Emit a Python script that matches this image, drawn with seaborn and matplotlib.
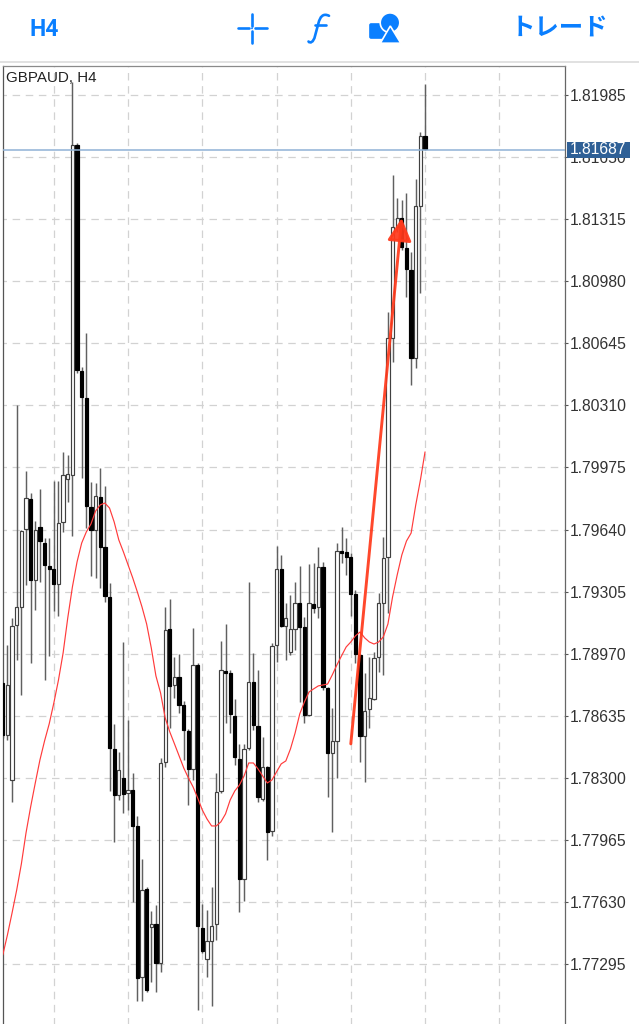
import matplotlib
matplotlib.use("Agg")
import logging
logging.getLogger("matplotlib.font_manager").setLevel(logging.ERROR)
import matplotlib.pyplot as plt
import numpy as np
import pandas as pd
import seaborn as sns
from matplotlib.patches import Circle, FancyBboxPatch, PathPatch, Polygon, Rectangle
from matplotlib.path import Path

# candle values: upper body edge, lower body edge, high, low, direction
body_top = [1.78812,1.78801,1.79119,1.79222,1.79632,1.79810,1.79805,1.79638,1.79654,1.79567,1.79443,1.79427,1.79675,1.79934,1.79940,1.81715,
1.81715,1.80496,1.80350,1.79762,1.79821,1.79816,1.79546,1.79276,1.78456,1.78342,1.78299,1.78234,1.78234,1.78040,1.77695,1.77700,
1.77511,1.77511,1.78380,1.79098,1.79103,1.78844,1.78844,1.78693,1.78553,1.78909,1.78909,1.77490,1.77419,1.77500,1.78224,1.78882,
1.78877,1.78866,1.78634,1.78402,1.78456,1.78817,1.78817,1.78580,1.78358,1.78358,1.79012,1.79427,1.79427,1.79163,1.79103,1.79244,
1.79244,1.79114,1.79244,1.79238,1.79438,1.79438,1.78785,1.78499,1.79524,1.79524,1.79519,1.79492,1.79292,1.78963,1.78661,1.78731,
1.78947,1.79244,1.79486,1.80674,1.81273,1.81321,1.81321,1.81160,1.81041,1.81386,1.81764,1.81764]
body_bottom = [1.78531,1.78531,1.78288,1.79125,1.79222,1.79643,1.79368,1.79368,1.79578,1.79449,1.79427,1.79346,1.79346,1.79681,1.79913,1.79934,
1.80501,1.80355,1.79767,1.79638,1.79638,1.79546,1.79281,1.78461,1.78207,1.78207,1.78213,1.78218,1.78040,1.77220,1.77225,1.77155,
1.77495,1.77301,1.77301,1.78385,1.78796,1.78801,1.78693,1.78558,1.78348,1.78348,1.77500,1.77365,1.77322,1.77419,1.77511,1.78229,
1.78866,1.78645,1.78412,1.77754,1.77754,1.78461,1.78585,1.78197,1.78186,1.78008,1.78013,1.79017,1.79119,1.79119,1.78979,1.79103,
1.79114,1.78639,1.78639,1.79217,1.79222,1.78790,1.78434,1.78434,1.78499,1.79513,1.79492,1.79292,1.78968,1.78526,1.78526,1.78672,
1.78726,1.78952,1.79244,1.79492,1.80674,1.81273,1.81165,1.81046,1.80566,1.80566,1.81386,1.81694]
highs = [1.78812,1.79017,1.79163,1.80312,1.79638,1.79956,1.79837,1.79686,1.79859,1.79594,1.79594,1.79902,1.79902,1.80059,1.80042,1.82055,
1.81726,1.80517,1.80701,1.79897,1.79891,1.79972,1.79875,1.79352,1.78591,1.78439,1.79033,1.78612,1.78326,1.78094,1.77862,1.77711,
1.77581,1.77614,1.78407,1.79222,1.79265,1.78952,1.78968,1.78715,1.78564,1.79109,1.78920,1.77619,1.77587,1.77711,1.78326,1.79039,
1.79130,1.78882,1.78725,1.78483,1.78483,1.79357,1.78974,1.78882,1.78520,1.78364,1.79028,1.79551,1.79503,1.79244,1.79287,1.79357,
1.79443,1.79168,1.79454,1.79459,1.79546,1.79465,1.78790,1.78677,1.79567,1.79654,1.79594,1.79513,1.79314,1.78968,1.78866,1.78952,
1.78979,1.79298,1.79600,1.80814,1.81554,1.81429,1.81419,1.81456,1.81138,1.81532,1.81786,1.82045]
lows = [1.78515,1.78504,1.78170,1.78936,1.78747,1.79341,1.78920,1.79206,1.79357,1.78828,1.78958,1.79200,1.79173,1.79627,1.79789,1.79605,
1.80485,1.79918,1.79648,1.79389,1.79379,1.79325,1.79249,1.78229,1.77954,1.78180,1.78110,1.78126,1.77630,1.77096,1.77096,1.77144,
1.77198,1.77144,1.77252,1.78358,1.78569,1.78731,1.78650,1.78396,1.78153,1.78288,1.77047,1.77355,1.77225,1.77069,1.77425,1.78218,
1.78596,1.78542,1.78369,1.77576,1.77635,1.78450,1.78558,1.78170,1.78175,1.77857,1.77986,1.78925,1.79114,1.78936,1.78963,1.78990,
1.78709,1.78596,1.78634,1.79190,1.79163,1.78774,1.78197,1.78008,1.78299,1.79459,1.79395,1.79173,1.78920,1.78385,1.78278,1.78569,
1.78720,1.78871,1.78855,1.79190,1.80544,1.81246,1.81149,1.80895,1.80420,1.80512,1.80917,1.81688]
direction = "DUUUUUDUDDDDUUUU" "DDDDUDDDDUDUDDUD" "UDUUDUDDDUDDUUUU" "DDDDUUDDUDUUDUUU" "DDUDUDDUUDDDDDUU" "UUUUUUDDDUUD"
ma_values = [1.77344,1.77452,1.77571,1.77695,1.77835,1.78002,1.78143,1.78272,1.78396,1.78499,1.78591,1.78704,1.78828,1.78974,1.79163,1.79330,
1.79465,1.79567,1.79627,1.79670,1.79740,1.79773,1.79783,1.79756,1.79681,1.79584,1.79519,1.79449,1.79379,1.79303,1.79222,1.79130,
1.79001,1.78850,1.78758,1.78623,1.78547,1.78483,1.78418,1.78353,1.78299,1.78251,1.78191,1.78126,1.78078,1.78040,1.78040,1.78062,
1.78105,1.78180,1.78229,1.78261,1.78310,1.78380,1.78380,1.78348,1.78310,1.78272,1.78288,1.78332,1.78375,1.78391,1.78456,1.78542,
1.78645,1.78709,1.78763,1.78780,1.78796,1.78801,1.78806,1.78855,1.78909,1.78958,1.79006,1.79033,1.79066,1.79087,1.79055,1.79033,
1.79022,1.79033,1.79060,1.79130,1.79276,1.79395,1.79503,1.79578,1.79621,1.79773,1.79907,1.80059]
price_ticks = ["1.81985","1.81650","1.81315","1.80980","1.80645","1.80310","1.79975","1.79640",
               "1.79305","1.78970","1.78635","1.78300","1.77965","1.77630","1.77295"]
vertical_grid = [11, 27, 43, 59, 75, 91, 107]
current_price = 1.81687
arrow_start = (75.0, 1.78483)
arrow_end = (85.97, 1.81321)
symbol_label = "GBPAUD, H4"
timeframe = "H4"
trade_label = "トレード"

frame = pd.DataFrame({"i": np.arange(len(highs)), "top": body_top, "bottom": body_bottom,
                      "high": highs, "low": lows, "ma": ma_values,
                      "up": [c == "U" for c in direction]})

BLUE = "#0A7FFF"
sns.set_theme(style="white")
plt.rcParams["font.family"] = ["Liberation Sans", "DejaVu Sans"]

fig = plt.figure(figsize=(6.39, 10.24), dpi=100, facecolor="white")
ax = fig.add_axes([3 / 639, 0, 562 / 639, 958 / 1024])
ax.set_facecolor("white")

ax.vlines(vertical_grid, 1.7, 1.9, color="#D2D2D2", lw=0.9, linestyles=(0, (6, 4.5)), zorder=1)
ax.hlines([float(t) for t in price_ticks], -5, 130, color="#D2D2D2", lw=0.9, linestyles=(0, (6, 4.5)), zorder=1)

ax.vlines(frame["i"], frame["low"], frame["high"], color="#606060", lw=1.05, zorder=2)
for is_up, part in frame.groupby("up"):
    ax.bar(part["i"], part["top"] - part["bottom"], bottom=part["bottom"], width=0.7,
           color="white" if is_up else "black", edgecolor="#404040" if is_up else "black",
           linewidth=0.85, zorder=3)

ax.axhline(current_price, color="#8FB2D6", lw=1.1, zorder=4)
sns.lineplot(data=frame, x="i", y="ma", color="#FF3B3B", lw=0.85, ax=ax, zorder=5, legend=False)
ax.annotate("", xy=arrow_end, xytext=arrow_start, zorder=6,
            arrowprops=dict(arrowstyle="-|>,head_length=1.4,head_width=0.74", mutation_scale=10,
                            color="#FF3A1C", lw=2.1, shrinkA=0, shrinkB=0, alpha=0.93))

ax.set_xlim((3 - 2.8) / 4.64, (565 - 2.8) / 4.64)
ax.set_ylim(1.76971, 1.82142)
ax.set_xlabel("")
ax.set_ylabel("")
ax.set_xticks([])
ax.yaxis.tick_right()
ax.set_yticks([float(t) for t in price_ticks])
ax.set_yticklabels(price_ticks, fontsize=11.3, color="#333333")
ax.tick_params(axis="y", which="major", right=True, length=2.2, width=0.8, color="#555555", pad=1.2)
for side, colour in [("left", "#555555"), ("right", "#666666"), ("top", "#8A8A8A")]:
    ax.spines[side].set_color(colour)
    ax.spines[side].set_linewidth(0.9)
ax.spines["bottom"].set_visible(False)

ax.text(0.0055, 0.9875, symbol_label, transform=ax.transAxes, fontsize=10.9,
        color="#222222", va="center", ha="left", zorder=8)

# Header and price tag drawn in page pixels
ui = fig.add_axes([0, 0, 1, 1], zorder=10)
ui.set_xlim(0, 639)
ui.set_ylim(1024, 0)
ui.axis("off")
ui.patch.set_alpha(0)
ui.plot([0, 639], [62, 62], color="#DEDEDE", lw=1.3)

ui.add_patch(Rectangle((567, 141.5), 62.5, 16.5, color="#2F6096", lw=0))
ui.text(598.0, 150, f"{current_price:.5f}", color="white", fontsize=11.3, ha="center", va="center")

ui.text(44, 29, timeframe, color=BLUE, fontsize=16.5, fontweight="bold", ha="center", va="center",
        family=["Roboto", "Liberation Sans"])

cross = dict(color=BLUE, lw=1.9, solid_capstyle="round")
ui.plot([237.5, 249], [28.3, 28.3], **cross)
ui.plot([255, 267], [28.3, 28.3], **cross)
ui.plot([252, 252], [14, 25.5], **cross)
ui.plot([252, 252], [31, 43], **cross)
ui.add_patch(Circle((252, 28.3), 0.9, color=BLUE, lw=0))

# function icon
f_stem = Path([(329, 15.8), (323, 12.8), (320, 17), (318.5, 23), (315, 36), (313.5, 42.5), (310, 43.5), (308.5, 41.5)],
              [Path.MOVETO, Path.CURVE4, Path.CURVE4, Path.CURVE4, Path.LINETO, Path.CURVE4, Path.CURVE4, Path.CURVE4])
ui.add_patch(PathPatch(f_stem, facecolor="none", edgecolor=BLUE, lw=1.9, capstyle="round"))
ui.plot([314.5, 326], [25, 25], color=BLUE, lw=1.9, solid_capstyle="round")

# shapes icon
ui.add_patch(FancyBboxPatch((370, 24), 16, 14, boxstyle="round,pad=0,rounding_size=1.2", color=BLUE, lw=1.2))
ui.add_patch(Circle((390, 22.7), 9.8, facecolor=BLUE, edgecolor="white", lw=1.2))
ui.add_patch(Polygon([(390.3, 26), (380.3, 43.2), (400.8, 43.2)], closed=True, facecolor=BLUE, edgecolor="white", lw=1.2))

ui.text(559.5, 28, trade_label, color=BLUE, fontsize=17.6, fontweight="bold", ha="center", va="center",
        family=["Noto Sans CJK JP", "DejaVu Sans"])

fig.savefig("out.png", dpi=100, facecolor="white")
